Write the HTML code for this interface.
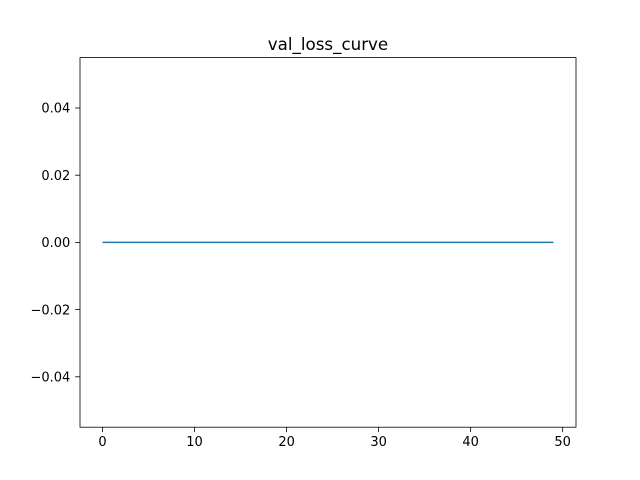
<!DOCTYPE html>
<html><head><meta charset="utf-8"><style>
html,body{margin:0;padding:0;background:#fff;}
svg{display:block;font-family:"DejaVu Sans","Liberation Sans",sans-serif;}
</style></head><body>
<svg id="chart" width="640" height="480" viewBox="0 0 640 480">
<rect width="640" height="480" fill="#fff"/>
<text x="328" y="50" font-size="16.7" text-anchor="middle">val_loss_curve</text>
<g id="marks"></g>
<g id="axes"></g>
</svg>
<script>
const epochs = Array.from({length:50},(_, i)=>i);
const valLoss = [0,0,0,0,0,0,0,0,0,0,0,0,0,0,0,0,0,0,0,0,0,0,0,0,0,0,0,0,0,0,0,0,0,0,0,0,0,0,0,0,0,0,0,0,0,0,0,0,0,0];
const xTicks = [0,10,20,30,40,50];
const yTicks = [-0.04,-0.02,0,0.02,0.04];
const yTickLabels = ["\u22120.04","\u22120.02","0.00","0.02","0.04"];

const L=80,R=576,T=57.6,B=427.2;
const xMin=-2.45,xMax=51.45,yMin=-0.055,yMax=0.055;
const xs=v=>L+(v-xMin)/(xMax-xMin)*(R-L);
const ys=v=>B-(v-yMin)/(yMax-yMin)*(B-T);
const NS="http://www.w3.org/2000/svg";
const marks=document.getElementById('marks'), axes=document.getElementById('axes');
function mk(tag,attrs,parent){const e=document.createElementNS(NS,tag);for(const k in attrs)e.setAttribute(k,attrs[k]);parent.appendChild(e);return e;}

const line=mk('polyline',{points:epochs.map((x,i)=>xs(x)+','+ys(valLoss[i])).join(' '),fill:'none',stroke:'#1f77b4','stroke-width':1.5},marks);



const frame=mk('rect',{x:L,y:T,width:R-L,height:B-T,fill:'none',stroke:'#000','stroke-width':0.8},axes);



xTicks.forEach(t=>{
  const x=xs(t);
  const tk=mk('line',{x1:x,x2:x,y1:B,y2:B+4.9,stroke:'#000','stroke-width':0.8},axes);
  
  
  const tx=mk('text',{x:x,y:B+19,'font-size':13,'text-anchor':'middle'},axes);
  tx.textContent=t;
  
  
});
yTicks.forEach((t,i)=>{
  const y=ys(t);
  const tk=mk('line',{x1:L-4.9,x2:L,y1:y,y2:y,stroke:'#000','stroke-width':0.8},axes);
  
  
  const tx=mk('text',{x:L-9.7,y:y+4.7,'font-size':13,'text-anchor':'end'},axes);
  tx.textContent=yTickLabels[i];
  
  
});
</script>
</body></html>
